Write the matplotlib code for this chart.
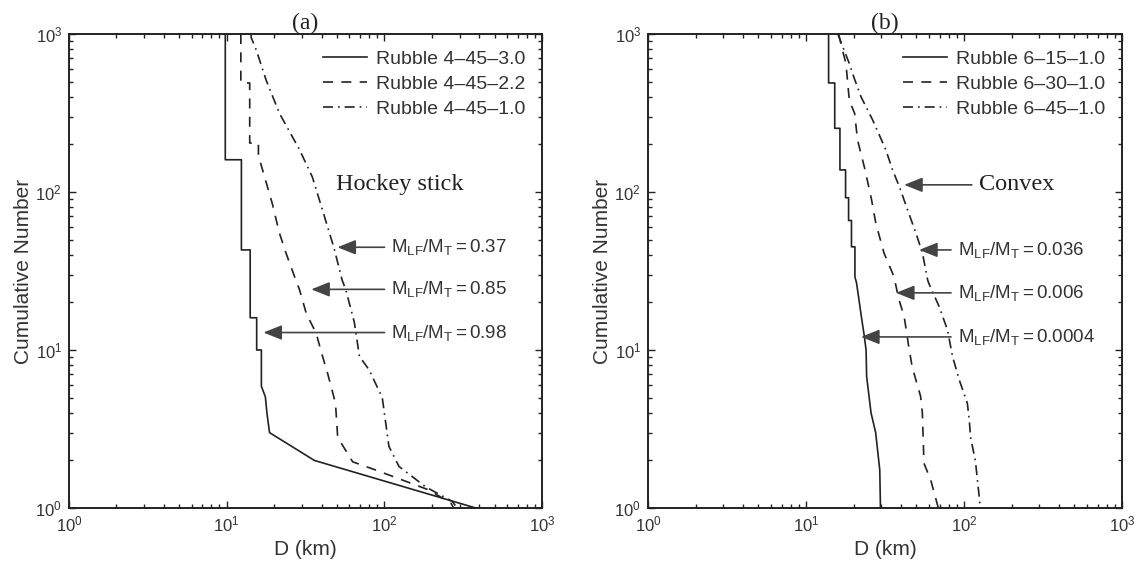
import matplotlib
matplotlib.use("Agg")
import matplotlib.pyplot as plt

# cumulative size distributions, (D km, N) vertices of each curve
a_labels = ["Rubble 4\u201345\u20133.0", "Rubble 4\u201345\u20132.2", "Rubble 4\u201345\u20131.0"]
a_solid_d = [9.8, 9.8, 12.4, 12.4, 14.1, 14.1, 15.5, 15.5, 16.6, 16.6, 17.6, 18.0, 18.7, 36, 380]
a_solid_n = [1000, 160, 160, 43, 43, 16, 16, 10, 10, 5.9, 5.05, 4.0, 3.0, 2.0, 1.0]
a_dash_d = [12.3, 12.3, 14.0, 14.0, 15.9, 15.9, 19.5, 21.6, 23.8, 27, 29, 32, 36.9, 40.6, 43.7, 49,
            50.6, 63, 88, 192, 265, 275]
a_dash_n = [1000, 490, 490, 204, 204, 170, 84, 55, 41, 29, 24, 17, 12.8, 9.1, 7.1, 4.6,
            2.8, 1.96, 1.74, 1.3, 1.07, 1.0]
a_dd_d = [14.3, 14.3, 15.4, 17.8, 21.6, 29, 35, 41.7, 48, 54, 57, 64.5, 69.5, 80, 97, 100, 107,
          124, 183, 270, 290]
a_dd_n = [1000, 950, 794, 510, 315, 185, 124, 70, 44, 27.7, 24, 15, 9.1, 7.5, 5.0, 4.0, 2.45,
          1.83, 1.36, 1.1, 1.0]

b_labels = ["Rubble 6\u201315\u20131.0", "Rubble 6\u201330\u20131.0", "Rubble 6\u201345\u20131.0"]
b_solid_d = [13.9, 13.9, 15.2, 15.2, 16.4, 16.4, 17.8, 17.8, 18.6, 18.6, 19.4, 19.4, 20.4, 20.4,
             20.9, 22.4, 23.4, 24.0, 24.2, 25.8, 27.6, 29.3, 29.6]
b_solid_n = [1000, 490, 490, 253, 253, 138, 138, 92, 92, 66, 66, 45, 45, 29,
             26.5, 16.3, 12.2, 10, 6.8, 4.0, 3.0, 1.74, 1.0]
b_dash_d = [16.1, 16.7, 17.9, 18.8, 20.3, 21.2, 23.4, 25.8, 27.7, 31.2, 36.1, 38.6, 41.8, 44.7,
            47.0, 53.1, 54.5, 55.8, 61.6, 68.8]
b_dash_n = [1000, 850, 650, 380, 315, 213, 144, 93, 63, 41, 29, 21.1, 16.3, 10.5,
            7.8, 5.1, 4.0, 1.92, 1.5, 1.0]
b_dd_d = [15.9, 17.1, 18.8, 20.2, 22.3, 26.4, 32.0, 35.3, 39.0, 44.8, 49.6, 54.6, 58.9, 59.9,
          69.5, 78.6, 84.6, 93.4, 105, 108, 110, 118, 127]
b_dd_n = [1000, 830, 650, 525, 400, 286, 185, 138, 108, 73, 55, 41, 27.7, 26.4,
          18.9, 13.4, 9.1, 6.45, 4.6, 3.6, 2.8, 2.0, 1.0]

# mass ratio labels: (value, arrow tip D, arrow tip N)
a_ratios = [("0.37", 50.4, 44.7), ("0.85", 34.4, 24.2), ("0.98", 17.1, 12.9)]
b_ratios = [("0.036", 52, 43), ("0.006", 37.1, 23), ("0.0004", 22.3, 12.1)]

plt.rcParams["font.family"] = "Liberation Sans"
plt.rcParams["mathtext.fontset"] = "custom"
plt.rcParams["mathtext.rm"] = "Liberation Sans"
plt.rcParams["mathtext.it"] = "Liberation Sans:italic"

INK = "#222222"
TXT = "#333333"
styles = [dict(ls="-"), dict(ls=(0, (6, 5))), dict(ls=(0, (6, 3, 1, 3)))]

fig = plt.figure(figsize=(11.36, 5.62), dpi=100)
ax_a = fig.add_axes([69 / 1136, 54 / 562, 473 / 1136, 474 / 562])
ax_b = fig.add_axes([648 / 1136, 54 / 562, 474 / 1136, 474 / 562])

arrow = dict(arrowstyle="-|>,head_length=0.7,head_width=0.28", color="#444444", lw=1.2,
             mutation_scale=16, shrinkA=3, shrinkB=0)


def setup(ax, title):
    ax.set_xscale("log")
    ax.set_yscale("log")
    ax.set_xlim(1, 1000)
    ax.set_ylim(1, 1000)
    ax.tick_params(which="both", direction="in", top=True, right=True, colors=INK,
                   labelcolor=TXT, labelsize=12)
    ax.tick_params(which="major", length=5, width=1, pad=5)
    ax.tick_params(which="minor", length=3, width=1)
    for s in ax.spines.values():
        s.set_linewidth(1.4)
        s.set_color(INK)
    ax.set_xlabel("D (km)", fontsize=15, color=TXT, labelpad=4)
    ax.set_ylabel("Cumulative Number", fontsize=15, color=TXT, labelpad=2)
    ax.set_title(title, family="Liberation Serif", fontsize=17, color=INK, pad=2)


def curves(ax, series, labels):
    for (d, n), st, lab in zip(series, styles, labels):
        ax.plot(d, n, color=INK, lw=1.2, label=lab, **st)
    ax.legend(loc="upper right", frameon=False, fontsize=14, handlelength=2.3,
              handletextpad=0.45, labelspacing=0.38, borderaxespad=0.45,
              labelcolor=TXT)


def ratios(ax, items, text_d):
    for val, d, n in items:
        ax.annotate(r"$\mathregular{M_{LF}/M_T = " + val + "}$", xy=(d, n),
                    xytext=(text_d, n), ha="left", va="center", fontsize=13.5, color=TXT,
                    arrowprops=arrow)


setup(ax_a, "(a)")
curves(ax_a, [(a_solid_d, a_solid_n), (a_dash_d, a_dash_n), (a_dd_d, a_dd_n)], a_labels)
ratios(ax_a, a_ratios, 111)
ax_a.text(49.7, 111, "Hockey stick", family="Liberation Serif", fontsize=17.5, color=INK,
          ha="left", va="center")

setup(ax_b, "(b)")
curves(ax_b, [(b_solid_d, b_solid_n), (b_dash_d, b_dash_n), (b_dd_d, b_dd_n)], b_labels)
ratios(ax_b, b_ratios, 91.6)
ax_b.annotate("Convex", xy=(41.8, 111), xytext=(124, 111), ha="left", va="center",
              family="Liberation Serif", fontsize=17.5, color=INK, arrowprops=arrow)

fig.savefig("out.png", dpi=100)
